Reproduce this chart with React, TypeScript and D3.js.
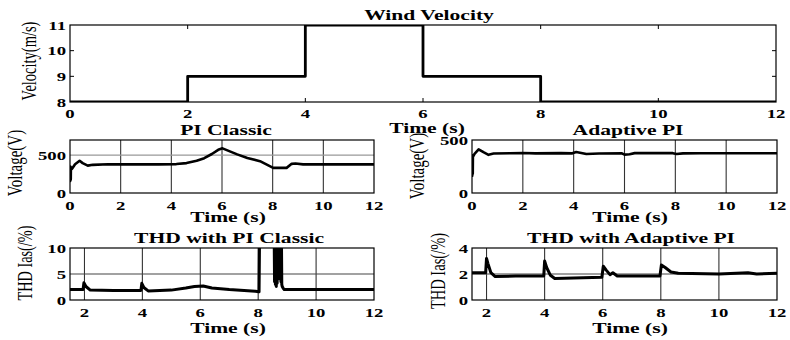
import * as d3 from 'd3';

// ─── Data ───────────────────────────────────────────────────

const windTime = [0, 2, 4, 6, 8, 12];
const windSpeed = [8, 9, 11, 9, 8, 8];

const piTime = [0, 0.005, 0.01, 0.015, 0.02, 0.025, 0.03, 0.035, 0.08, 0.2, 0.38, 0.5, 0.7, 0.9, 1.5, 2.5, 3.5, 4.2, 4.6, 5, 5.3, 5.6, 5.85, 6.02, 6.6, 7, 7.5, 8.02, 8.55, 8.75, 8.9, 9.2, 12];
const piVolt = [150, 350, 160, 340, 170, 345, 180, 330, 320, 380, 425, 395, 362, 372, 380, 378, 378, 382, 395, 425, 460, 515, 570, 590, 510, 462, 420, 332, 332, 385, 390, 378, 378];

const adTime = [0, 0.005, 0.01, 0.015, 0.02, 0.025, 0.03, 0.035, 0.1, 0.26, 0.45, 0.65, 0.85, 1.5, 2, 2.5, 3.5, 3.95, 4.1, 4.3, 4.5, 5, 5.9, 6.0, 6.2, 6.4, 7, 7.9, 8.05, 8.3, 9, 12];
const adVolt = [150, 355, 165, 345, 175, 350, 185, 340, 370, 412, 385, 360, 372, 375, 378, 374, 376, 374, 386, 378, 368, 372, 374, 362, 366, 376, 376, 376, 368, 374, 375, 375];

const thdPiTime = [1.5, 1.95, 1.98, 2.05, 2.2, 3, 3.95, 3.98, 4.05, 4.2, 5, 5.5, 5.8, 6.1, 6.4, 7, 7.9, 8.03, 8.05, 8.55, 8.565, 8.58, 8.595, 8.61, 8.625, 8.64, 8.655, 8.67, 8.69, 8.74, 8.755, 8.77, 8.785, 8.8, 8.815, 8.83, 8.86, 8.9, 9.5, 10.5, 12];
const thdPiVal = [2.0, 2.0, 3.3, 2.6, 1.9, 1.85, 1.85, 3.2, 2.4, 1.75, 1.9, 2.3, 2.6, 2.7, 2.3, 2.0, 1.7, 1.6, 14, 14, 3.5, 14, 3.0, 14, 2.6, 14, 3.2, 14, 14, 14, 4, 14, 3.5, 14, 3, 2.6, 2.3, 2.0, 2.0, 2.0, 2.0];

const thdAdTime = [1.5, 1.97, 2.0, 2.05, 2.15, 2.3, 3, 3.97, 4.0, 4.07, 4.2, 4.35, 5, 5.97, 6.02, 6.12, 6.25, 6.35, 6.5, 7.97, 8.02, 8.15, 8.35, 8.6, 10, 11, 11.3, 12];
const thdAdVal = [2.1, 2.1, 3.2, 2.8, 2.1, 1.8, 1.85, 1.85, 3.0, 2.5, 1.9, 1.65, 1.7, 1.75, 2.6, 2.3, 1.95, 2.1, 1.85, 1.85, 2.7, 2.5, 2.15, 2.05, 2.0, 2.1, 2.0, 2.05];

const xTicksFull = [0, 2, 4, 6, 8, 10, 12];
const xTicksThd = [2, 4, 6, 8, 10, 12];

// ─── Helpers ────────────────────────────────────────────────

const FONT = '"Liberation Serif", "Times New Roman", serif';
const SX = 1.44; // the figure is stretched horizontally

function SText({ x, y, size, bold = true, anchor = 'middle', rotate = false, children }: any) {
  return (
    <text
      transform={`translate(${x},${y}) scale(${SX},1)${rotate ? ' rotate(-90)' : ''}`}
      fontFamily={FONT}
      fontSize={size}
      fontWeight={bold ? 'bold' : 'normal'}
      textAnchor={anchor}
      fill="#000"
    >
      {children}
    </text>
  );
}

interface PanelProps {
  id: string;
  left: number; right: number; top: number; bottom: number;
  xDomain: [number, number]; yDomain: [number, number];
  xTicks: number[]; yTicks: number[];
  vGrid?: number[]; hGrid?: number[]; hGridColor?: string;
  t: number[]; v: number[];
  step?: boolean;
  lineWidth?: number;
  title: string; titleX: number; titleY: number;
  ylabel: string; ylabelX: number; ylabelY: number; ylabelSize: number;
  tickY: number; xlabelX: number; xlabelY: number;
  edgeTicksX?: number[]; edgeTicksY?: number[];
}

function Panel(p: PanelProps) {
  const x = d3.scaleLinear().domain(p.xDomain).range([p.left, p.right]);
  const y = d3.scaleLinear().domain(p.yDomain).range([p.bottom, p.top]);
  const pts = p.t.map((tt, i) => [tt, p.v[i]] as [number, number]);
  const line = d3.line<[number, number]>()
    .x((d) => x(d[0]))
    .y((d) => y(d[1]))
    .curve(p.step ? d3.curveStepAfter : d3.curveLinear);

  return (
    <g>
      <defs>
        <clipPath id={`clip-${p.id}`}>
          <rect x={p.left} y={p.top} width={p.right - p.left} height={p.bottom - p.top} />
        </clipPath>
      </defs>
      <rect x={p.left} y={p.top} width={p.right - p.left} height={p.bottom - p.top} fill="#fff" />
      {(p.vGrid || []).map((g) => (
        <line key={`v${g}`} x1={x(g)} x2={x(g)} y1={p.top} y2={p.bottom} stroke="#333" strokeWidth={1.1} />
      ))}
      {(p.hGrid || []).map((g) => (
        <line key={`h${g}`} x1={p.left} x2={p.right} y1={y(g)} y2={y(g)} stroke={p.hGridColor || '#444'} strokeWidth={1.1} />
      ))}
      {(p.edgeTicksX || []).map((g) => (
        <g key={`ex${g}`}>
          <line x1={x(g)} x2={x(g)} y1={p.bottom} y2={p.bottom - 4} stroke="#000" />
          <line x1={x(g)} x2={x(g)} y1={p.top} y2={p.top + 4} stroke="#000" />
        </g>
      ))}
      {(p.edgeTicksY || []).map((g) => (
        <g key={`ey${g}`}>
          <line x1={p.left} x2={p.left + 4} y1={y(g)} y2={y(g)} stroke="#000" />
          <line x1={p.right} x2={p.right - 4} y1={y(g)} y2={y(g)} stroke="#000" />
        </g>
      ))}
      <path d={line(pts) || ''} fill="none" stroke="#000" strokeWidth={p.lineWidth || 2.6} strokeLinejoin="round" clipPath={`url(#clip-${p.id})`} />
      <rect x={p.left} y={p.top} width={p.right - p.left} height={p.bottom - p.top} fill="none" stroke="#000" strokeWidth={1.2} />

      {p.xTicks.map((tk) => (
        <SText key={`xt${tk}`} x={x(tk)} y={p.tickY} size={13}>{tk}</SText>
      ))}
      {p.yTicks.map((tk) => (
        <SText key={`yt${tk}`} x={p.left - 4} y={y(tk) + 4.5} size={13} anchor="end">{tk}</SText>
      ))}
      <SText x={p.titleX} y={p.titleY} size={15}>{p.title}</SText>
      <SText x={p.xlabelX} y={p.xlabelY} size={15}>Time (s)</SText>
      <SText x={p.ylabelX} y={p.ylabelY} size={p.ylabelSize} bold={false} rotate>{p.ylabel}</SText>
    </g>
  );
}

// ─── App ────────────────────────────────────────────────────

export default function App() {
  return (
    <div style={{ position: 'absolute', left: 0, top: 0 }}>
      <svg width={790} height={340} style={{ display: 'block', background: '#fff' }}>
        <rect width={790} height={340} fill="#fff" />

        <Panel id="wind" left={70} right={776} top={25} bottom={102}
          xDomain={[0, 12]} yDomain={[8, 11]}
          xTicks={xTicksFull} yTicks={[8, 9, 10, 11]}
          edgeTicksX={[2, 4, 6, 8, 10]} edgeTicksY={[9, 10]}
          t={windTime} v={windSpeed} step lineWidth={2.8}
          title="Wind Velocity" titleX={429} titleY={20}
          ylabel="Velocity(m/s)" ylabelX={36} ylabelY={61} ylabelSize={14.5}
          tickY={118} xlabelX={427} xlabelY={133} />

        <Panel id="pi" left={70} right={374} top={140} bottom={193}
          xDomain={[0, 12]} yDomain={[0, 700]}
          xTicks={xTicksFull} yTicks={[0, 500]}
          vGrid={[2, 4, 6, 8, 10]} hGrid={[500]} hGridColor="#999"
          t={piTime} v={piVolt}
          title="PI Classic" titleX={226} titleY={135}
          ylabel="Voltage(V)" ylabelX={22} ylabelY={163} ylabelSize={15}
          tickY={210} xlabelX={228} xlabelY={222} />

        <Panel id="ad" left={472} right={777} top={140} bottom={193}
          xDomain={[0, 12]} yDomain={[0, 500]}
          xTicks={xTicksFull} yTicks={[0, 500]}
          vGrid={[2, 4, 6, 8, 10]}
          t={adTime} v={adVolt}
          title="Adaptive PI" titleX={628} titleY={135}
          ylabel="Voltage(V)" ylabelX={424} ylabelY={166} ylabelSize={15}
          tickY={210} xlabelX={630} xlabelY={222} />

        <Panel id="thdpi" left={70} right={374} top={248} bottom={300}
          xDomain={[1.5, 12]} yDomain={[0, 10]}
          xTicks={xTicksThd} yTicks={[0, 5, 10]}
          vGrid={[2, 4, 6, 8, 10]} hGrid={[5]}
          t={thdPiTime} v={thdPiVal} lineWidth={3}
          title="THD with PI Classic" titleX={229} titleY={243}
          ylabel="THD Ias(/%)" ylabelX={32} ylabelY={263} ylabelSize={14.3}
          tickY={317} xlabelX={228} xlabelY={333} />

        <Panel id="thdad" left={472} right={777} top={248} bottom={300}
          xDomain={[1.5, 12]} yDomain={[0, 4]}
          xTicks={xTicksThd} yTicks={[0, 2, 4]}
          vGrid={[2, 4, 6, 8, 10]} hGrid={[2]}
          t={thdAdTime} v={thdAdVal} lineWidth={3}
          title="THD with Adaptive PI" titleX={631} titleY={243}
          ylabel="THD Ias(/%)" ylabelX={445} ylabelY={271} ylabelSize={14.5}
          tickY={317} xlabelX={630} xlabelY={333} />
      </svg>
    </div>
  );
}
